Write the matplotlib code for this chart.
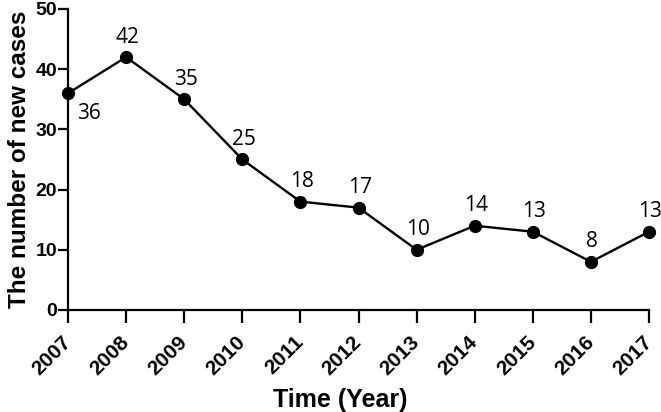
import matplotlib.pyplot as plt

years = [2007, 2008, 2009, 2010, 2011, 2012, 2013, 2014, 2015, 2016, 2017]
cases = [36, 42, 35, 25, 18, 17, 10, 14, 13, 8, 13]

plt.rcParams['font.family'] = ['Liberation Sans', 'DejaVu Sans']

fig = plt.figure(figsize=(6.61, 4.12), dpi=100)
ax = fig.add_axes([0.1029, 0.2476, 0.879, 0.7306])

ax.plot(years, cases, color='black', lw=1.7, marker='o', ms=8.5, clip_on=False, zorder=3)

# value labels, first one sits below-right of its point
for i, (yr, n) in enumerate(zip(years, cases)):
    if i == 0:
        ax.annotate(str(n), (yr, n), xytext=(6.5, -14.5), textcoords='offset points',
                    ha='left', va='center', fontsize=15, family='Open Sans')
    else:
        ax.annotate(str(n), (yr, n), xytext=(1, 14.5), textcoords='offset points',
                    ha='center', va='center', fontsize=15, family='Open Sans')

ax.set_xlim(2007, 2017)
ax.set_ylim(0, 50)
ax.set_xticks(years)
ax.set_yticks(range(0, 51, 10))
ax.set_xticklabels([str(y) for y in years], rotation=45, ha='right', va='center',
                   rotation_mode='anchor', fontweight='bold', fontsize=15)
for lab in ax.get_yticklabels():
    lab.set_fontweight('bold')
    lab.set_fontsize(14)

ax.spines['top'].set_visible(False)
ax.spines['right'].set_visible(False)
ax.spines['left'].set_linewidth(1.6)
ax.spines['bottom'].set_linewidth(1.6)
ax.tick_params(axis='x', width=1.6, length=9, color='black', pad=12)
ax.tick_params(axis='y', width=1.6, length=7, color='black', pad=1)

ax.set_xlabel('Time (Year)', fontsize=18, fontweight='bold')
ax.xaxis.set_label_coords(0.468, -0.259)
ax.set_ylabel('The number of new cases', fontsize=17.5, fontweight='bold', labelpad=3)

fig.savefig('out.png', dpi=100)
